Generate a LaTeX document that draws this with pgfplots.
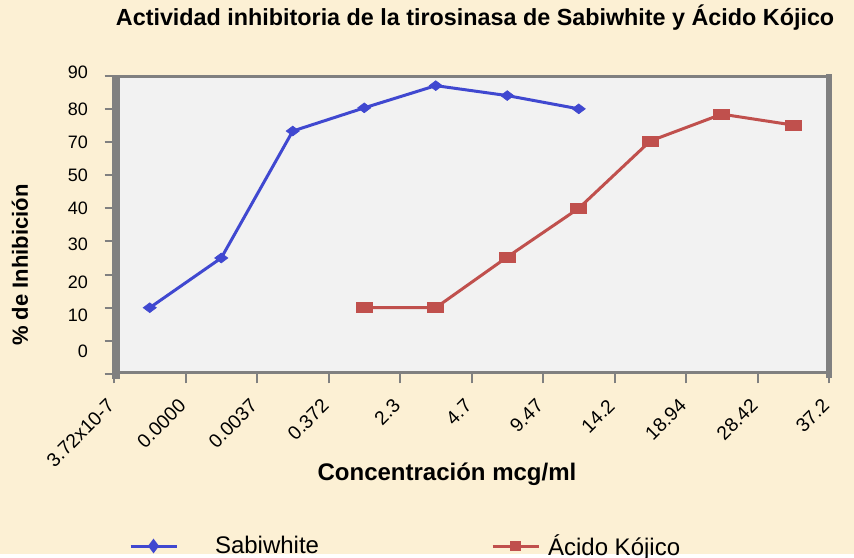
\documentclass[border=0pt]{standalone}
\usepackage{fontspec}
\setmainfont{Liberation Sans}
\usepackage{pgfplots}
\pgfplotsset{compat=1.18}
\definecolor{bg}{RGB}{252,240,212}
\definecolor{plotbg}{RGB}{242,242,242}
\definecolor{framegray}{RGB}{128,128,128}
\definecolor{sabi}{RGB}{64,72,208}
\definecolor{koji}{RGB}{192,80,77}
\newcommand{\lowr}[2]{\raisebox{#1}[\height][\depth]{#2}}
\begin{document}
\begin{tikzpicture}
\begin{scope}[x=0.75pt,y=-0.75pt]
\path[use as bounding box, fill=bg] (0,0) rectangle (854,554);
\fill[plotbg] (120,78) rectangle (826,371);
\fill[framegray] (112,75) rectangle (120,379);
\fill[framegray] (112,75) rectangle (832,78);
\fill[framegray] (826,74.5) rectangle (832,378);
\fill[framegray] (112,370.7) rectangle (832,373.5);
\end{scope}
\begin{axis}[
  at={(85.5pt,-280.5pt)}, anchor=south west,
  scale only axis, width=536.25pt, height=223.725pt,
  xmin=0, xmax=10, ymin=-10, ymax=80,
  clip=false,
  axis line style={draw=none},
  /pgf/number format/assume math mode=true,
  tick align=outside, xtick pos=left, ytick pos=left,
  major tick length=7pt,
  tick style={draw=framegray, line width=1.5pt},
  xtick={0,1,2,3,4,5,6,7,8,9,10},
  xticklabels={3.72x10-7,0.0000,0.0037,0.372,2.3,4.7,9.47,14.2,18.94,28.42,37.2},
  xticklabel style={font=\fontsize{14.5}{16}\selectfont, yshift=-12pt, xshift=0pt, rotate=45, anchor=east},
  ytick={-10,0,10,20,30,40,50,60,70,80},
  yticklabels={,\lowr{-7.5pt}{0},\lowr{-5.5pt}{10},\lowr{-5.8pt}{20},\lowr{-2.2pt}{30},40,50,70,80,\lowr{2.8pt}{90}},
  yticklabel style={font=\fontsize{13.5}{15}\selectfont, xshift=-9pt},
  title={Actividad inhibitoria de la tirosinasa de Sabiwhite y Ácido Kójico},
  title style={font=\fontsize{17.5}{20}\selectfont\bfseries, at={(axis description cs:0.505,1.1666)}, anchor=center},
  xlabel={Concentración mcg/ml},
  xlabel style={font=\fontsize{18}{20}\selectfont\bfseries, at={(axis description cs:0.4657,-0.335)}, anchor=center},
  ylabel={\% de Inhibición},
  ylabel style={font=\fontsize{16.5}{18}\selectfont\bfseries, at={(axis description cs:-0.1315,0.3654)}, anchor=center, rotate=0},
  legend columns=2,
  legend style={draw=none, fill=none, inner sep=0pt, outer sep=0pt,
    at={(axis description cs:0.021,-0.5766)}, anchor=west,
    font=\fontsize{18}{20}\selectfont,
    nodes={inner sep=0pt},
    /tikz/column 1/.style={column sep=27.75pt},
    /tikz/column 2/.style={column sep=129pt},
    /tikz/column 3/.style={column sep=6pt}},
  legend image code/.code={\draw[#1] (0pt,0pt) -- (34.5pt,0pt); \draw[#1, mark options={scale=0.75}] plot coordinates {(17.25pt,0pt)};},
]
\addplot[sabi, line width=2.25pt, mark=diamond*, mark size=4.9pt, mark options={rotate=90, solid, line width=0.5pt}]
  coordinates {(0.5,10) (1.5,25) (2.5,63.3) (3.5,70.3) (4.5,77) (5.5,74) (6.5,70)};
\addlegendentry{Sabiwhite}
\addplot[koji, line width=2.25pt, mark=square*, mark size=3.75pt, mark options={xscale=1.6, solid, line width=0.5pt}]
  coordinates {(3.5,10) (4.5,10) (5.5,25.3) (6.5,40) (7.5,60.3) (8.5,68.4) (9.5,65.1)};
\addlegendentry{Ácido Kójico}
\end{axis}
\end{tikzpicture}
\end{document}
